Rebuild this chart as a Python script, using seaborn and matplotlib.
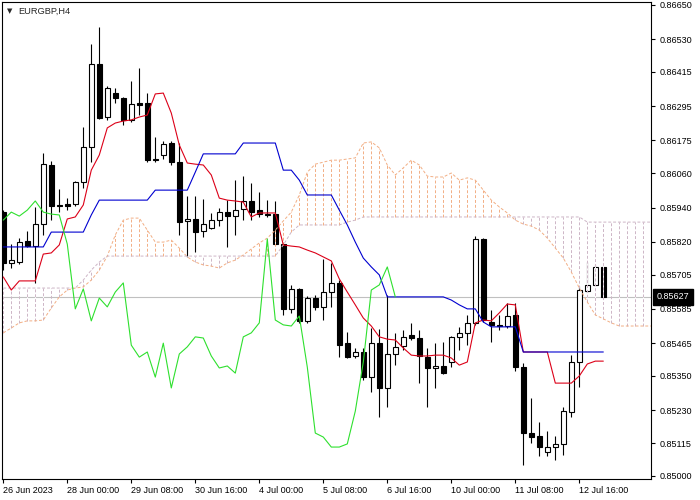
import numpy as np
import pandas as pd
import seaborn as sns
import matplotlib.pyplot as plt
from matplotlib.transforms import blended_transform_factory

# EURGBP H4 candles (26 Jun 16:00 .. 13 Jul 04:00), prices
open_ = [0.85924, 0.85746, 0.85749, 0.85823, 0.85805, 0.85882, 0.86089, 0.85949, 0.85952, 0.85952,
         0.86029, 0.86152, 0.86443, 0.86257, 0.86341, 0.86324, 0.86247, 0.86306, 0.86306, 0.86110,
         0.86124, 0.86166, 0.86099, 0.85893, 0.85900, 0.85858, 0.85868, 0.85896, 0.85924, 0.85910,
         0.85935, 0.85963, 0.85931, 0.85917, 0.85917, 0.85812, 0.85585, 0.85655, 0.85543, 0.85623,
         0.85592, 0.85644, 0.85676, 0.85465, 0.85420, 0.85434, 0.85346, 0.85465, 0.85308, 0.85427,
         0.85455, 0.85494, 0.85483, 0.85416, 0.85378, 0.85385, 0.85399, 0.85487, 0.85501, 0.85536,
         0.85830, 0.85539, 0.85529, 0.85525, 0.85564, 0.85381, 0.85150, 0.85140, 0.85084, 0.85101,
         0.85112, 0.85224, 0.85399, 0.85648, 0.85669, 0.85732]
high = [0.85931, 0.85812, 0.85833, 0.85858, 0.85942, 0.86131, 0.86103, 0.86005, 0.85973, 0.86033,
        0.86222, 0.86513, 0.86572, 0.86366, 0.86359, 0.86327, 0.86383, 0.86429, 0.86341, 0.86187,
        0.86173, 0.86173, 0.86166, 0.85980, 0.85980, 0.85970, 0.85921, 0.85938, 0.85966, 0.86036,
        0.86050, 0.86026, 0.85994, 0.85966, 0.85963, 0.85816, 0.85669, 0.85658, 0.85630, 0.85634,
        0.85760, 0.85746, 0.85686, 0.85504, 0.85448, 0.85448, 0.85518, 0.85515, 0.85634, 0.85501,
        0.85511, 0.85536, 0.85511, 0.85448, 0.85465, 0.85469, 0.85490, 0.85522, 0.85564, 0.85840,
        0.85833, 0.85581, 0.85564, 0.85606, 0.85606, 0.85395, 0.85273, 0.85189, 0.85157, 0.85140,
        0.85241, 0.85423, 0.85665, 0.85749, 0.85739, 0.85735]
low = [0.85721, 0.85728, 0.85742, 0.85802, 0.85676, 0.85844, 0.85896, 0.85924, 0.85931, 0.85945,
       0.86008, 0.86099, 0.86250, 0.86247, 0.86306, 0.86229, 0.86240, 0.86264, 0.86099, 0.86099,
       0.86110, 0.86089, 0.85844, 0.85767, 0.85784, 0.85837, 0.85865, 0.85875, 0.85802, 0.85844,
       0.85896, 0.85896, 0.85907, 0.85907, 0.85809, 0.85564, 0.85571, 0.85536, 0.85536, 0.85581,
       0.85546, 0.85592, 0.85416, 0.85413, 0.85413, 0.85336, 0.85294, 0.85206, 0.85241, 0.85388,
       0.85441, 0.85476, 0.85325, 0.85241, 0.85308, 0.85357, 0.85381, 0.85441, 0.85458, 0.85529,
       0.85539, 0.85469, 0.85511, 0.85518, 0.85367, 0.85038, 0.85115, 0.85070, 0.85070, 0.85056,
       0.85073, 0.85206, 0.85311, 0.85641, 0.85665, 0.85627]
close = [0.85746, 0.85756, 0.85819, 0.85805, 0.85882, 0.86092, 0.85945, 0.85945, 0.85945, 0.86029,
         0.86152, 0.86443, 0.86254, 0.86359, 0.86324, 0.86247, 0.86303, 0.86299, 0.86106, 0.86106,
         0.86163, 0.86099, 0.85889, 0.85900, 0.85854, 0.85882, 0.85896, 0.85924, 0.85910, 0.85931,
         0.85963, 0.85924, 0.85917, 0.85914, 0.85812, 0.85585, 0.85655, 0.85543, 0.85623, 0.85592,
         0.85644, 0.85676, 0.85458, 0.85416, 0.85434, 0.85346, 0.85465, 0.85308, 0.85427, 0.85452,
         0.85487, 0.85483, 0.85420, 0.85378, 0.85385, 0.85360, 0.85487, 0.85501, 0.85536, 0.85830,
         0.85546, 0.85529, 0.85525, 0.85560, 0.85381, 0.85150, 0.85136, 0.85101, 0.85101, 0.85112,
         0.85227, 0.85399, 0.85651, 0.85669, 0.85732, 0.85627]

# Ichimoku lines
tenkan = [0.85697, 0.85651, 0.85683, 0.85683, 0.85683, 0.85777, 0.85781, 0.85809, 0.85900, 0.85907,
          0.85949, 0.86071, 0.86124, 0.86219, 0.86236, 0.86243, 0.86247, 0.86257, 0.86264, 0.86338,
          0.86341, 0.86271, 0.86159, 0.86096, 0.86092, 0.86089, 0.86054, 0.85973, 0.85966, 0.85963,
          0.85959, 0.85907, 0.85921, 0.85921, 0.85921, 0.85809, 0.85805, 0.85802, 0.85791, 0.85781,
          0.85767, 0.85753, 0.85690, 0.85644, 0.85599, 0.85553, 0.85525, 0.85487, 0.85479, 0.85476,
          0.85448, 0.85423, 0.85420, 0.85420, 0.85423, 0.85423, 0.85413, 0.85388, 0.85399, 0.85536,
          0.85546, 0.85543, 0.85571, 0.85602, 0.85599, 0.85434, 0.85434, 0.85434, 0.85434, 0.85325,
          0.85325, 0.85325, 0.85350, 0.85392, 0.85402, 0.85402]
kijun = [0.85802, 0.85802, 0.85802, 0.85802, 0.85802, 0.85802, 0.85854, 0.85854, 0.85854, 0.85854,
         0.85854, 0.85914, 0.85966, 0.85966, 0.85966, 0.85966, 0.85966, 0.85966, 0.85966, 0.86001,
         0.86001, 0.86001, 0.86001, 0.86001, 0.86064, 0.86128, 0.86128, 0.86128, 0.86128, 0.86128,
         0.86166, 0.86166, 0.86166, 0.86166, 0.86166, 0.86071, 0.86071, 0.86036, 0.85984, 0.85984,
         0.85984, 0.85984, 0.85931, 0.85879, 0.85819, 0.85763, 0.85732, 0.85704, 0.85627, 0.85627,
         0.85627, 0.85627, 0.85627, 0.85627, 0.85627, 0.85627, 0.85616, 0.85599, 0.85585, 0.85585,
         0.85539, 0.85522, 0.85522, 0.85522, 0.85522, 0.85434, 0.85434, 0.85434, 0.85434, 0.85434,
         0.85434, 0.85434, 0.85434, 0.85434, 0.85434, 0.85434]
# senkou spans run 6 bars past the last candle
span_a = [0.85501, 0.85518, 0.85536, 0.85543, 0.85543, 0.85546, 0.85588, 0.85627, 0.85651, 0.85658,
          0.85662, 0.85686, 0.85721, 0.85770, 0.85844, 0.85896, 0.85903, 0.85903, 0.85861, 0.85819,
          0.85819, 0.85826, 0.85798, 0.85767, 0.85749, 0.85739, 0.85735, 0.85728, 0.85746, 0.85756,
          0.85774, 0.85795, 0.85816, 0.85833, 0.85861, 0.85893, 0.85924, 0.85984, 0.86064, 0.86092,
          0.86099, 0.86106, 0.86106, 0.86110, 0.86114, 0.86166, 0.86170, 0.86149, 0.86089, 0.86054,
          0.86079, 0.86106, 0.86089, 0.86050, 0.86047, 0.86047, 0.86061, 0.86036, 0.86044, 0.86036,
          0.86001, 0.85966, 0.85942, 0.85921, 0.85896, 0.85882, 0.85875, 0.85861, 0.85833, 0.85798,
          0.85763, 0.85714, 0.85658, 0.85609, 0.85564, 0.85550, 0.85536, 0.85525, 0.85525, 0.85525,
          0.85525, 0.85525]
span_b = [0.85658, 0.85658, 0.85658, 0.85658, 0.85658, 0.85658, 0.85658, 0.85658, 0.85658, 0.85658,
          0.85686, 0.85721, 0.85749, 0.85770, 0.85770, 0.85770, 0.85770, 0.85770, 0.85770, 0.85770,
          0.85770, 0.85770, 0.85770, 0.85770, 0.85770, 0.85770, 0.85770, 0.85770, 0.85770, 0.85770,
          0.85770, 0.85770, 0.85770, 0.85770, 0.85770, 0.85809, 0.85854, 0.85879, 0.85879, 0.85879,
          0.85879, 0.85879, 0.85879, 0.85889, 0.85896, 0.85907, 0.85907, 0.85907, 0.85907, 0.85907,
          0.85907, 0.85907, 0.85907, 0.85907, 0.85907, 0.85907, 0.85907, 0.85907, 0.85907, 0.85907,
          0.85907, 0.85907, 0.85907, 0.85907, 0.85907, 0.85907, 0.85907, 0.85907, 0.85907, 0.85907,
          0.85907, 0.85907, 0.85907, 0.85889, 0.85889, 0.85889, 0.85889, 0.85889, 0.85889, 0.85889,
          0.85889, 0.85889]

last_price = 0.85627
time_labels = ["26 Jun 2023", "28 Jun 00:00", "29 Jun 08:00", "30 Jun 16:00", "4 Jul 00:00",
               "5 Jul 08:00", "6 Jul 16:00", "10 Jul 00:00", "11 Jul 08:00", "12 Jul 16:00"]
price_ticks = [0.85000, 0.85115, 0.85230, 0.85350, 0.85465, 0.85585, 0.85705, 0.85820,
               0.85940, 0.86060, 0.86175, 0.86295, 0.86415, 0.86530, 0.86650]

sns.set_style('white')
plt.rcParams['font.family'] = ['Liberation Sans', 'DejaVu Sans']

df = pd.DataFrame({'open': open_, 'high': high, 'low': low, 'close': close,
                   'tenkan': tenkan, 'kijun': kijun})
df['bar'] = np.arange(len(df))
df['chikou'] = df['close'].shift(-26)  # close plotted 26 bars back

cloud = pd.DataFrame({'a': span_a, 'b': span_b})
cloud['bar'] = np.arange(len(cloud))

fig = plt.figure(figsize=(7, 5), dpi=100)
ax = fig.add_axes([2 / 700, 21 / 500, 649 / 700, 477 / 500])

ax.axhline(last_price, color='#c0c0c0', lw=0.8, zorder=1)

# candles
up = df['close'] >= df['open']
ax.vlines(df['bar'], df['low'], df['high'], color='black', lw=0.8, zorder=2)
ax.bar(df['bar'], (df['close'] - df['open']).abs(),
       bottom=df[['open', 'close']].min(axis=1), width=0.6,
       color=np.where(up, 'white', 'black'), edgecolor='black', linewidth=0.8, zorder=3)

# kumo: dashed hatching with white gaps, drawn over the candles
sandy = '#f2ae84'
thistle = '#cdb5c6'
dash = (0, (3, 2))
lo = cloud[['a', 'b']].min(axis=1)
hi = cloud[['a', 'b']].max(axis=1)
bull = cloud['a'] >= cloud['b']
ax.vlines(cloud['bar'], lo, hi, color='white', lw=0.7, zorder=4)
ax.vlines(cloud['bar'][bull], lo[bull], hi[bull], color=sandy, lw=0.7, linestyles=dash, zorder=4.1)
ax.vlines(cloud['bar'][~bull], lo[~bull], hi[~bull], color=thistle, lw=0.7, linestyles=dash, zorder=4.1)
ax.plot(cloud['bar'], cloud['a'], color=sandy, lw=0.7, ls=dash, zorder=4.2)
ax.plot(cloud['bar'], cloud['b'], color=thistle, lw=0.7, ls=dash, zorder=4.2)

sns.lineplot(data=df, x='bar', y='tenkan', ax=ax, color='#dc0018', linewidth=0.8, zorder=5)
sns.lineplot(data=df, x='bar', y='kijun', ax=ax, color='#0000d0', linewidth=0.8, zorder=5)
sns.lineplot(data=df.dropna(subset=['chikou']), x='bar', y='chikou', ax=ax,
             color='#2ee02e', linewidth=0.8, zorder=5)

ax.set_xlim(-0.16, 80.96)
ax.set_ylim(0.849891, 0.866600)
ax.set_xlabel('')
ax.set_ylabel('')

ax.yaxis.tick_right()
ax.set_yticks(price_ticks)
ax.set_yticklabels([f'{p:.5f}' for p in price_ticks])
ax.tick_params(axis='y', direction='out', length=3, width=0.8, pad=3,
               labelsize=6.5, right=True, left=False, colors='black')
ax.set_xticks(np.arange(0, 73, 8))
ax.set_xticklabels(time_labels, ha='left')
ax.tick_params(axis='x', direction='out', length=3, width=0.8, pad=2,
               labelsize=6.5, bottom=True, colors='black')
for s in ax.spines.values():
    s.set_color('black')
    s.set_linewidth(0.8)

ax.text(0.0116, 0.981, '\u25bc', transform=ax.transAxes, fontsize=5,
        family='DejaVu Sans', ha='center', va='center')
ax.text(0.0247, 0.981, 'EURGBP,H4', transform=ax.transAxes, fontsize=6.7,
        ha='left', va='center')

trans = blended_transform_factory(ax.transAxes, ax.transData)
ax.text(1.0085, last_price, f'{last_price:.5f}', transform=trans, color='white',
        fontsize=6.5, ha='left', va='center', zorder=10, clip_on=False,
        bbox=dict(boxstyle='square,pad=0.4', fc='black', ec='black'))

fig.savefig('out.png', dpi=100)
